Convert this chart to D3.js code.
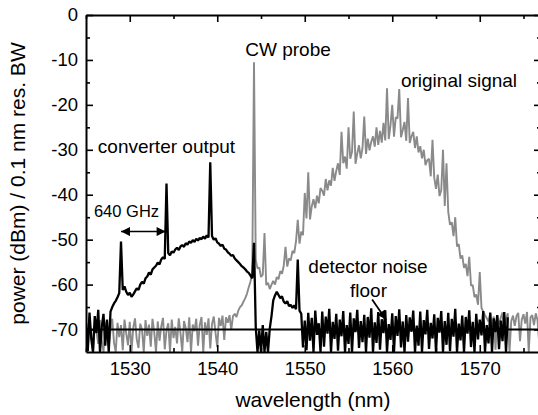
<!DOCTYPE html>
<html>
<head>
<meta charset="utf-8">
<script src="https://cdn.jsdelivr.net/npm/d3@7"></script>
<style>
  html, body { margin: 0; padding: 0; background: #fff; }
  svg { display: block; font-family: "Liberation Sans", Arial, Helvetica, sans-serif; }
</style>
</head>
<body>
<svg id="chart" width="538" height="415"></svg>
<script>
// ---- data ----
const wlStart = 1525;      // nm, first sample
const wlStep = 0.2;        // nm, sample spacing

// grey trace: original signal + CW probe (dBm), 1525.0 ... 1577.0 nm
const grayDb = [
  -69.5,-74.8,-68.2,-71.0,-75,-68.8,-70.5,-73.2,-67.9,-72.4,
  -75,-69.1,-68.0,-74.0,-70.3,-67.6,-72.9,-75,-68.5,-71.7,
  -69.0,-74.6,-67.8,-70.9,-73.5,-68.3,-75,-69.6,-67.5,-72.2,
  -74.1,-68.7,-70.0,-75,-67.9,-71.4,-68.9,-73.8,-67.6,-70.6,
  -75,-68.2,-72.5,-69.3,-67.4,-74.4,-70.1,-68.6,-75,-67.8,
  -71.9,-69.4,-73.1,-67.5,-70.8,-74.9,-68.1,-69.7,-72.8,-67.3,
  -75,-68.9,-70.4,-67.6,-73.6,-69.0,-67.2,-75,-68.4,-71.2,
  -67.5,-74.2,-68.8,-67.1,-70.7,-73.9,-67.4,-69.2,-66.9,-72.3,
  -67.3,-68.5,-66.8,-70.1,
  -67.0,-66.5,-67.2,-65.8,-65.0,-64.6,-63.8,-63.0,-62.0,-60.6,
  -59.3,-57.5,-10.5,-54.5,-56.4,-56.2,-58.3,-57.8,-48.5,-60.1,
  -59.6,-61.0,-60.0,-59.2,-60.0,-58.3,-58.8,-57.0,-57.6,-55.8,
  -51.6,-56.0,-54.2,-54.6,-52.5,-53.0,-50.4,-45.6,-50.9,-48.2,
  -49.0,-39.6,-45.3,-35.0,-45.5,-42.6,-41.0,-43.0,-40.2,-41.9,
  -38.5,-39.1,-40.2,-36.5,-39.0,-36.8,-38.0,-34.0,-36.9,-34.7,
  -33.0,-35.6,-26.0,-33.0,-31.5,-34.2,-25.0,-32.0,-30.5,-21.5,
  -33.1,-30.8,-29.0,-31.9,-29.6,-22.6,-30.9,-27.5,-30.1,-28.2,
  -27.0,-29.3,-25.0,-28.9,-25.8,-28.4,-24.0,-27.9,-16.3,-27.6,
  -24.5,-20.0,-27.1,-22.8,-23.0,-16.5,-27.2,-25.6,-23.8,-28.0,
  -18.5,-28.5,-27.0,-26.0,-29.6,-27.0,-30.6,-29.2,-31.9,-30.0,
  -33.4,-32.3,-32.0,-35.9,-27.8,-36.2,-38.7,-35.5,-40.3,-39.0,
  -30.0,-42.5,-33.0,-43.8,-46.7,-46.1,-49.2,-45.0,-51.5,-51.0,
  -54.2,-53.5,-56.3,-55.4,-58.1,-53.8,-60.2,-60.1,-62.8,-62.2,
  -64.5,-57.2,-65.2,-66.0,-66.8,-67.5,
  -68.2,-66.5,-69.4,-67.1,-74.5,-66.8,-68.9,-67.4,-66.2,-70.8,
  -67.6,-66.4,-75,-68.1,-66.9,-69.2,-67.0,-66.3,-72.6,-67.8,
  -66.6,-68.7,-66.1,-75,-67.3,-66.8,-69.0,-66.4,-67.9,-73.2,-66.7
];

// black trace: converter output + detector noise (dBm), 1525.0 ... 1573.2 nm
const blackDb = [
  -68.5,-74.8,-66.2,-72.0,-75,-67.0,-70.8,-65.6,-75,-69.4,-66.5,-73.6,-67.8,-75,-66.0,
  -65.0,-64.2,-63.6,-62.8,-61.9,-50.4,-61.2,-60.4,-61.6,-62.3,
  -61.8,-62.7,-62.2,-61.5,-60.8,-61.2,-60.0,-59.4,-59.8,-58.6,
  -58.2,-57.3,-57.8,-56.6,-56.2,-55.8,-55.1,-55.5,-54.4,-53.9,
  -54.3,-37.5,-53.0,-53.5,-52.6,-52.9,-52.2,-51.8,-52.3,-51.5,
  -51.2,-51.6,-50.8,-51.1,-50.4,-50.7,-50.1,-50.5,-49.8,-50.2,
  -49.6,-49.9,-49.3,-49.8,-49.0,-49.5,-32.8,-49.2,-50.0,-49.7,
  -50.6,-50.9,-51.4,-51.1,-52.0,-52.2,-52.8,-53.1,-53.6,-53.4,
  -54.2,-54.6,-55.0,-55.4,-55.9,-56.2,-56.6,-57.1,-57.4,-58.0,
  -58.6,-50.7,-69.5,-75,-70.2,-75,-69.0,-75,-70.5,-75,
  -69.8,-67.0,-63.5,-62.4,-61.6,-62.3,-63.0,-62.6,-63.8,-64.2,
  -63.7,-64.8,-64.5,-65.2,-64.6,-65.5,-54.4,-65.8,-66.5,-74.0,
  -68.0,-74.6,-66.3,-72.5,-67.4,-75,-65.8,-71.2,-68.6,-75,
  -66.0,-73.8,-67.1,-70.9,-65.4,-75,-68.3,-72.1,-66.5,-74.7,
  -67.8,-71.5,-65.9,-75,-69.0,-73.2,-66.2,-75,-67.5,-70.6,
  -65.6,-74.1,-68.1,-72.8,-66.7,-75,-67.2,-71.8,-65.3,-75,
  -68.4,-73.0,-66.1,-74.5,-67.7,-70.8,-65.7,-75,-68.8,-72.3,
  -66.4,-75,-67.0,-71.4,-65.5,-74.0,-68.2,-75,-66.8,-72.7,
  -67.3,-70.5,-65.8,-75,-69.1,-73.6,-66.0,-75,-67.9,-71.1,
  -65.6,-74.3,-68.5,-72.0,-66.6,-75,-67.4,-70.7,-65.9,-75,
  -68.1,-73.4,-66.3,-74.8,-67.6,-71.6,-65.4,-75,-68.7,-72.4,
  -66.9,-75,-67.2,-70.9,-65.7,-73.9,-68.3,-75,-66.5,-72.2,
  -67.8,-71.3,-65.9,-75,-69.0,-73.1,-66.2,-75,-67.5,-70.6,
  -66.8,-74.4,-68.0,-72.6,-66.1,-75,-67.3
];

const noiseFloorDb = -70;
const xDomain = [1525, 1577];
const yDomain = [-75, 0];
const xMajor = [1530, 1540, 1550, 1560, 1570];
const xMinor = [1525, 1535, 1545, 1555, 1565, 1575];
const yMajor = [0, -10, -20, -30, -40, -50, -60, -70];
const yMinor = [-5, -15, -25, -35, -45, -55, -65];

const labels = {
  x: "wavelength (nm)",
  y: "power (dBm) / 0.1 nm res. BW",
  probe: "CW probe",
  signal: "original signal",
  conv: "converter output",
  ghz: "640 GHz",
  noise1: "detector noise",
  noise2: "floor"
};
// annotation arrows in data coordinates
const ghzArrow = { x1: 1529.0, x2: 1534.1, y: -48.2 };
const floorArrow = { x1: 1557.7, y1: -63.3, x2: 1559.3, y2: -67.8 };

// ---- drawing ----
const svg = d3.select("#chart");
const x = d3.scaleLinear().domain(xDomain).range([86, 541]);
const y = d3.scaleLinear().domain(yDomain).range([352, 15]);

const defs = svg.append("defs");
defs.append("clipPath").attr("id", "plotclip")
  .append("rect").attr("x", 86).attr("y", 15).attr("width", 455).attr("height", 337);
defs.append("marker").attr("id", "ah").attr("viewBox", "0 0 10 10")
  .attr("refX", 10).attr("refY", 5).attr("markerUnits", "userSpaceOnUse")
  .attr("markerWidth", 11).attr("markerHeight", 9).attr("orient", "auto-start-reverse")
  .append("path").attr("d", "M0,0 L10,5 L0,10 Z").attr("fill", "#000");

const toPts = arr => arr.map((v, i) => [wlStart + i * wlStep, v]);
const line = d3.line().x(d => x(d[0])).y(d => y(d[1]));

const plot = svg.append("g").attr("clip-path", "url(#plotclip)");
plot.append("path").datum(toPts(grayDb)).attr("d", line)
  .attr("fill", "none").attr("stroke", "#8a8a8a").attr("stroke-width", 1.9)
  .attr("stroke-linejoin", "bevel");
plot.append("path").datum(toPts(blackDb)).attr("d", line)
  .attr("fill", "none").attr("stroke", "#000").attr("stroke-width", 2.3)
  .attr("stroke-linejoin", "bevel");
plot.append("line")
  .attr("x1", x(xDomain[0])).attr("x2", x(xDomain[1]))
  .attr("y1", y(noiseFloorDb)).attr("y2", y(noiseFloorDb))
  .attr("stroke", "#000").attr("stroke-width", 2);

// axes
function styleAxis(g, keepDomain) {
  g.select(".domain").attr("stroke-width", 2).style("display", keepDomain ? null : "none");
  g.selectAll(".tick line").attr("stroke-width", 1.6);
  g.selectAll(".tick text").attr("font-size", 18.5).attr("fill", "#000")
    .attr("font-family", '"Liberation Sans", Arial, sans-serif');
}
const fmt = d => String(d);
svg.append("g").attr("transform", `translate(0,${y(-75)})`)
  .call(d3.axisBottom(x).tickValues(xMajor).tickFormat(fmt).tickSizeInner(-7).tickSizeOuter(0).tickPadding(10))
  .call(g => styleAxis(g, true));
svg.append("g").attr("transform", `translate(0,${y(-75)})`)
  .call(d3.axisBottom(x).tickValues(xMinor).tickFormat("").tickSizeInner(-4).tickSizeOuter(0))
  .call(g => styleAxis(g, false));
svg.append("g").attr("transform", `translate(0,${y(0)})`)
  .call(d3.axisTop(x).tickValues(xMajor).tickFormat("").tickSizeInner(-7).tickSizeOuter(0))
  .call(g => styleAxis(g, true));
svg.append("g").attr("transform", `translate(0,${y(0)})`)
  .call(d3.axisTop(x).tickValues(xMinor).tickFormat("").tickSizeInner(-4).tickSizeOuter(0))
  .call(g => styleAxis(g, false));
svg.append("g").attr("transform", `translate(${x(1525)},0)`)
  .call(d3.axisLeft(y).tickValues(yMajor).tickFormat(fmt).tickSizeInner(-7).tickSizeOuter(0).tickPadding(8))
  .call(g => styleAxis(g, true));
svg.append("g").attr("transform", `translate(${x(1525)},0)`)
  .call(d3.axisLeft(y).tickValues(yMinor).tickFormat("").tickSizeInner(-4).tickSizeOuter(0))
  .call(g => styleAxis(g, false));
svg.append("g").attr("transform", `translate(${x(1577)},0)`)
  .call(d3.axisRight(y).tickValues(yMajor).tickFormat("").tickSizeInner(-7).tickSizeOuter(0))
  .call(g => styleAxis(g, true));
svg.append("g").attr("transform", `translate(${x(1577)},0)`)
  .call(d3.axisRight(y).tickValues(yMinor).tickFormat("").tickSizeInner(-4).tickSizeOuter(0))
  .call(g => styleAxis(g, false));

// axis titles
svg.append("text").attr("x", 313).attr("y", 407).attr("text-anchor", "middle")
  .attr("font-size", 21).attr("fill", "#000").text(labels.x);
svg.append("text").attr("transform", "translate(25,183.5) rotate(-90)")
  .attr("text-anchor", "middle").attr("font-size", 21).attr("fill", "#000").text(labels.y);

// annotations
const ann = (t, cx, by, fs) => svg.append("text").attr("x", cx).attr("y", by)
  .attr("text-anchor", "middle").attr("font-size", fs).attr("fill", "#000").text(t);
ann(labels.probe, 288, 56, 19);
ann(labels.signal, 459, 87, 19);
ann(labels.conv, 166.5, 153, 19);
ann(labels.ghz, 126.5, 217, 16.5);
ann(labels.noise1, 368, 273, 19);
ann(labels.noise2, 368.5, 297, 19);

svg.append("line")
  .attr("x1", x(ghzArrow.x1)).attr("x2", x(ghzArrow.x2))
  .attr("y1", y(ghzArrow.y)).attr("y2", y(ghzArrow.y))
  .attr("stroke", "#000").attr("stroke-width", 1.5)
  .attr("marker-start", "url(#ah)").attr("marker-end", "url(#ah)");
svg.append("line")
  .attr("x1", x(floorArrow.x1)).attr("y1", y(floorArrow.y1))
  .attr("x2", x(floorArrow.x2)).attr("y2", y(floorArrow.y2))
  .attr("stroke", "#000").attr("stroke-width", 1.8)
  .attr("marker-end", "url(#ah)");
</script>
</body>
</html>
